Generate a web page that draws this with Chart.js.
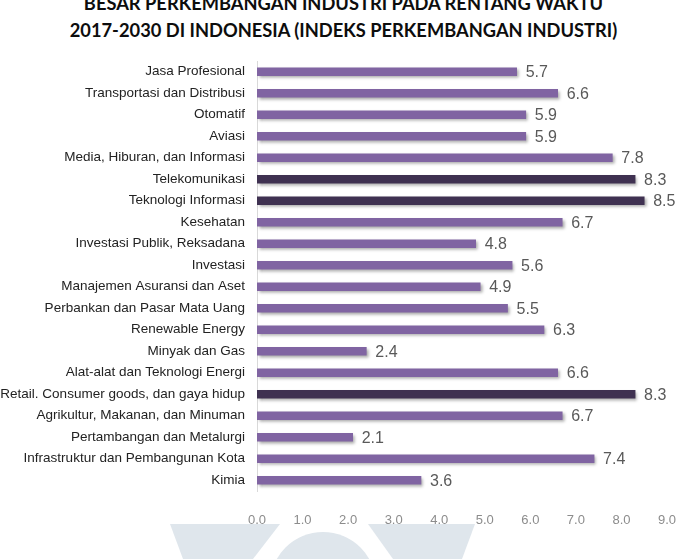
<!DOCTYPE html>
<html>
<head>
<meta charset="utf-8">
<script src="https://cdn.jsdelivr.net/npm/chart.js@4.4.0/dist/chart.umd.min.js"></script>
<style>
  html, body { margin: 0; padding: 0; background: #fff; }
  #wrap { position: relative; width: 687px; height: 559px; overflow: hidden; }
  #wm { position: absolute; left: 0; top: 0; }
  #title { position: absolute; left: 0; top: -10px; width: 687px; text-align: center;
           font-family: Lato, "Open Sans", sans-serif; font-weight: 700; font-size: 18.3px;
           line-height: 27px; color: #0d0d0d; }
  #c { position: absolute; left: 0; top: 0; }
</style>
</head>
<body>
<div id="wrap">
  <svg id="wm" width="687" height="559">
    <polygon points="170,524 280,524 253,559 183,559" fill="#dfe6ec"/>
    <polygon points="368,524 475,524 462,559 393,559" fill="#dfe6ec"/>
    <circle cx="323" cy="585" r="53" fill="#dfe6ec"/>
  </svg>
  <div id="title">BESAR PERKEMBANGAN INDUSTRI PADA RENTANG WAKTU<br>2017-2030 DI INDONESIA (INDEKS PERKEMBANGAN INDUSTRI)</div>
  <canvas id="c" width="687" height="559"></canvas>
</div>
<script>
const categories = [
  "Jasa Profesional",
  "Transportasi dan Distribusi",
  "Otomatif",
  "Aviasi",
  "Media, Hiburan, dan Informasi",
  "Telekomunikasi",
  "Teknologi Informasi",
  "Kesehatan",
  "Investasi Publik, Reksadana",
  "Investasi",
  "Manajemen Asuransi dan Aset",
  "Perbankan dan Pasar Mata Uang",
  "Renewable Energy",
  "Minyak dan Gas",
  "Alat-alat dan Teknologi Energi",
  "Retail. Consumer goods, dan gaya hidup",
  "Agrikultur, Makanan, dan Minuman",
  "Pertambangan dan Metalurgi",
  "Infrastruktur dan Pembangunan Kota",
  "Kimia"
];
const values = [5.7, 6.6, 5.9, 5.9, 7.8, 8.3, 8.5, 6.7, 4.8, 5.6, 4.9, 5.5, 6.3, 2.4, 6.6, 8.3, 6.7, 2.1, 7.4, 3.6];
const highlighted = ["Telekomunikasi", "Teknologi Informasi", "Retail. Consumer goods, dan gaya hidup"];
const xTicks = [0, 1, 2, 3, 4, 5, 6, 7, 8, 9];

const baseColor = "#8064A2";
const darkColor = "#3F3151";
const barColors = categories.map(c => highlighted.includes(c) ? darkColor : baseColor);

const shadowPlugin = {
  id: "barShadow",
  beforeDatasetsDraw(chart) {
    const ctx = chart.ctx;
    ctx.save();
    ctx.shadowColor = "rgba(0,0,0,0.35)";
    ctx.shadowOffsetX = 2;
    ctx.shadowOffsetY = 2;
    ctx.shadowBlur = 3;
  },
  afterDatasetsDraw(chart) {
    chart.ctx.restore();
    const ctx = chart.ctx;
    const meta = chart.getDatasetMeta(0);
    ctx.save();
    ctx.font = "16px 'Liberation Sans', Arial, sans-serif";
    ctx.fillStyle = "#595959";
    ctx.textAlign = "left";
    ctx.textBaseline = "middle";
    meta.data.forEach((el, i) => {
      ctx.fillText(values[i].toFixed(1), el.x + 9, el.y + 1);
    });
    ctx.restore();
  }
};

new Chart(document.getElementById("c"), {
  type: "bar",
  data: {
    labels: categories,
    datasets: [{
      data: values,
      backgroundColor: barColors,
      borderWidth: 0,
      barThickness: 8
    }]
  },
  options: {
    indexAxis: "y",
    responsive: false,
    animation: false,
    events: [],
    layout: { padding: { top: 61, right: 20, bottom: 0, left: 0 } },
    plugins: { legend: { display: false }, tooltip: { enabled: false }, title: { display: false } },
    scales: {
      x: {
        min: 0, max: 9,
        afterBuildTicks(scale) { scale.ticks = xTicks.map(v => ({ value: v })); },
        afterFit(scale) { scale.height = 68; scale.paddingLeft = 0; scale.paddingRight = 0; },
        grid: { display: false, drawTicks: false },
        border: { display: false },
        ticks: {
          padding: 22,
          color: "#8c8c8c",
          font: { family: "'Liberation Sans', Arial, sans-serif", size: 13 },
          callback: v => Number(v).toFixed(1)
        }
      },
      y: {
        afterFit(scale) { scale.width = 257; },
        grid: { display: false, drawTicks: false },
        border: { display: true, color: "#d9d9d9", width: 1 },
        ticks: {
          padding: 12,
          color: "#222",
          font: { family: "'Liberation Sans', Arial, sans-serif", size: 13.5 }
        }
      }
    }
  },
  plugins: [shadowPlugin]
});
</script>
</body>
</html>
